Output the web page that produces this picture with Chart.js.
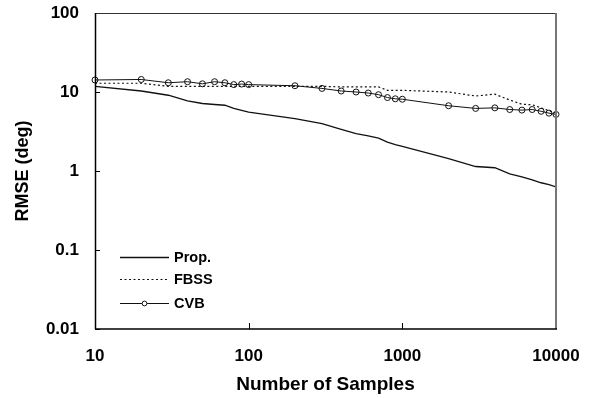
<!DOCTYPE html>
<html>
<head>
<meta charset="utf-8">
<script src="https://cdn.jsdelivr.net/npm/chart.js@4/dist/chart.umd.min.js"></script>
<style>
html,body{margin:0;padding:0;background:#fff;}
#wrap{width:592px;height:398px;}
</style>
</head>
<body>
<div id="wrap"><canvas id="c" width="592" height="398"></canvas></div>
<script>
const samples = [10,20,30,40,50,60,70,80,90,100,200,300,400,500,600,700,800,900,1000,2000,3000,4000,5000,6000,7000,8000,9000,10000];
const propValues = [11.8,10.3,9.1,7.7,7.15,6.95,6.8,6.2,5.85,5.55,4.6,3.97,3.36,2.98,2.78,2.61,2.32,2.16,2.05,1.43,1.14,1.1,0.92,0.84,0.77,0.71,0.67,0.63];
const fbssValues = [12.9,12.9,11.8,11.8,11.8,11.8,11.8,11.8,11.8,11.8,11.8,11.8,11.6,11.6,11.6,11.6,10.5,10.5,10.5,10.0,8.9,9.4,7.9,7.0,6.9,6.3,5.8,5.4];
const cvbValues = [14.2,14.4,13.1,13.5,12.7,13.5,13.1,12.4,12.6,12.4,12.0,11.1,10.3,10.0,9.7,9.25,8.5,8.2,8.1,6.7,6.2,6.3,6.0,5.9,6.0,5.7,5.4,5.2];
const seriesNames = ['Prop.','FBSS','CVB'];
const xTickValues = [10,100,1000,10000];
const xTickLabels = ['10','100','1000','10000'];
const yTickValues = [0.01,0.1,1,10,100];
const yTickLabels = ['0.01','0.1','1','10','100'];
const xTitle = 'Number of Samples';
const yTitle = 'RMSE (deg)';

const FONT = '"Liberation Sans", Arial, sans-serif';

function pts(vals){ return samples.map((x,i)=>({x:x,y:vals[i]})); }
function noPad(s){ s.paddingTop = 0; s.paddingBottom = 0; s.paddingLeft = 0; s.paddingRight = 0; }

const frameAndTicks = {
  id:'frameAndTicks',
  afterDatasetsDraw(chart){
    const {ctx, chartArea:a, scales} = chart;
    ctx.save();
    ctx.strokeStyle = '#000';
    ctx.lineWidth = 1;
    yTickValues.forEach(v=>{
      const y = Math.round(scales.y.getPixelForValue(v)) + 0.5;
      ctx.beginPath(); ctx.moveTo(a.left, y); ctx.lineTo(a.left+5, y); ctx.stroke();
    });
    xTickValues.forEach(v=>{
      const x = Math.round(scales.x.getPixelForValue(v)) + 0.5;
      ctx.beginPath(); ctx.moveTo(x, a.bottom); ctx.lineTo(x, a.bottom-6); ctx.stroke();
    });
    ctx.strokeStyle = '#333';
    ctx.lineWidth = 1;
    ctx.beginPath(); ctx.moveTo(a.left, a.top+0.5); ctx.lineTo(a.right, a.top+0.5); ctx.stroke();
    ctx.strokeStyle = '#777';
    ctx.lineWidth = 2;
    ctx.beginPath(); ctx.moveTo(a.right, a.top); ctx.lineTo(a.right, a.bottom); ctx.stroke();
    ctx.strokeStyle = '#000';
    ctx.lineWidth = 1.5;
    ctx.beginPath(); ctx.moveTo(a.left+0.5, a.top); ctx.lineTo(a.left+0.5, a.bottom); ctx.stroke();
    ctx.beginPath(); ctx.moveTo(a.left, a.bottom); ctx.lineTo(a.right+1, a.bottom); ctx.stroke();
    const ds = chart.data.datasets;
    const lx0 = a.left + 25, lx1 = a.left + 74, tx = a.left + 79;
    const rows = [a.bottom - 72, a.bottom - 50, a.bottom - 26];
    ctx.font = 'bold 14.5px ' + FONT;
    ctx.textBaseline = 'middle';
    ctx.textAlign = 'left';
    ds.forEach((d,i)=>{
      const y = rows[i] + 0.5;
      ctx.strokeStyle = d.borderColor;
      ctx.lineWidth = d.borderWidth;
      ctx.setLineDash(d.borderDash || []);
      ctx.beginPath(); ctx.moveTo(lx0, y); ctx.lineTo(lx1, y); ctx.stroke();
      ctx.setLineDash([]);
      if (d.pointRadius > 0) {
        ctx.fillStyle = '#fff';
        ctx.lineWidth = 1;
        ctx.beginPath(); ctx.arc((lx0+lx1)/2, y, 2.4, 0, Math.PI*2); ctx.fill(); ctx.stroke();
      }
      ctx.fillStyle = '#000';
      ctx.fillText(d.label, tx, y);
    });
    ctx.restore();
  }
};

new Chart(document.getElementById('c'), {
  type:'line',
  data:{
    datasets:[
      {label:seriesNames[0], data:pts(propValues), borderColor:'#111', borderWidth:1.3, pointRadius:0, tension:0},
      {label:seriesNames[1], data:pts(fbssValues), borderColor:'#111', borderWidth:1.2, borderDash:[2,2.5], pointRadius:0, tension:0},
      {label:seriesNames[2], data:pts(cvbValues), borderColor:'#111', borderWidth:1, pointRadius:3, pointBorderWidth:1,
       pointBorderColor:'#111', pointBackgroundColor:'rgba(0,0,0,0)', tension:0, clip:false}
    ]
  },
  options:{
    responsive:false,
    animation:false,
    devicePixelRatio:1,
    layout:{padding:{top:13,right:36,left:0,bottom:0}},
    plugins:{legend:{display:false}, tooltip:{enabled:false}},
    scales:{
      x:{
        type:'logarithmic', min:10, max:10000,
        afterBuildTicks(s){ s.ticks = xTickValues.map(v=>({value:v})); },
        afterFit(s){ s.height = 69; noPad(s); },
        grid:{display:false, drawTicks:false},
        border:{display:false},
        ticks:{
          autoSkip:false, maxRotation:0, padding:17,
          color:'#000', font:{family:FONT, size:17, weight:'bold'},
          callback(v){ const i = xTickValues.indexOf(v); return i>=0 ? xTickLabels[i] : ''; }
        },
        title:{display:true, text:xTitle, color:'#000', font:{family:FONT, size:19, weight:'bold'}, padding:{top:0,bottom:2}}
      },
      y:{
        type:'logarithmic', min:0.01, max:100,
        afterBuildTicks(s){ s.ticks = yTickValues.map(v=>({value:v})); },
        afterFit(s){ s.width = 95; noPad(s); },
        grid:{display:false, drawTicks:false},
        border:{display:false},
        ticks:{
          autoSkip:false, padding:16,
          color:'#000', font:{family:FONT, size:17, weight:'bold'},
          callback(v){ const i = yTickValues.indexOf(v); return i>=0 ? yTickLabels[i] : ''; }
        },
        title:{display:true, text:yTitle, color:'#000', font:{family:FONT, size:18, weight:'bold'}, padding:{top:12,bottom:0}}
      }
    }
  },
  plugins:[frameAndTicks]
});
</script>
</body>
</html>
